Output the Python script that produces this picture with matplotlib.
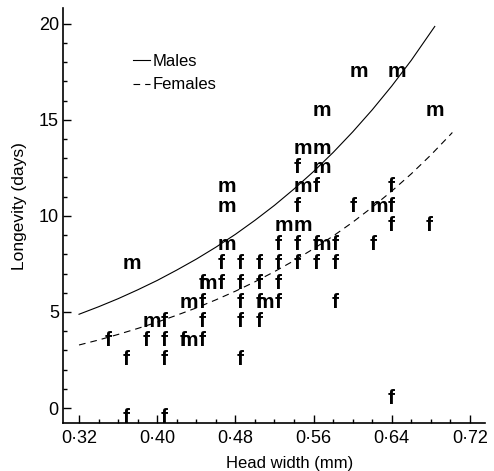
import matplotlib
matplotlib.use('Agg')
import matplotlib.pyplot as plt
from matplotlib.ticker import MultipleLocator, FuncFormatter

plt.rcParams['font.family'] = ['Liberation Sans', 'DejaVu Sans']

# fitted longevity curves, sampled along head width
curve_x_m = [0.32, 0.34, 0.36, 0.38, 0.40, 0.42, 0.44, 0.46, 0.48, 0.50,
             0.52, 0.54, 0.56, 0.58, 0.60, 0.62, 0.64, 0.66, 0.684]
curve_y_m = [4.88, 5.27, 5.69, 6.15, 6.64, 7.18, 7.75, 8.37, 9.04, 9.77,
             10.55, 11.40, 12.31, 13.30, 14.37, 15.52, 16.76, 18.10, 19.86]
curve_x_f = [0.32, 0.34, 0.36, 0.38, 0.40, 0.42, 0.44, 0.46, 0.48, 0.50,
             0.52, 0.54, 0.56, 0.58, 0.60, 0.62, 0.64, 0.66, 0.68, 0.70, 0.702]
curve_y_f = [3.28, 3.54, 3.83, 4.14, 4.47, 4.83, 5.21, 5.63, 6.08, 6.57,
             7.10, 7.67, 8.29, 8.95, 9.67, 10.45, 11.29, 12.19, 13.17, 14.23, 14.34]

# individual insects: head width (mm) and longevity (days)
head_m = [0.597, 0.636, 0.559, 0.675, 0.540, 0.559, 0.559, 0.462, 0.540, 0.462,
          0.617, 0.520, 0.540, 0.462, 0.559, 0.365, 0.442, 0.423, 0.501, 0.385,
          0.423]
days_m = [18, 18, 16, 16, 14, 14, 13, 12, 12, 11,
          11, 10, 10, 9, 9, 8, 7, 6, 6, 5,
          4]

head_f = [0.540,
          0.559, 0.636,
          0.540, 0.597, 0.636,
          0.636, 0.675,
          0.520, 0.540, 0.559, 0.578, 0.617,
          0.462, 0.481, 0.501, 0.520, 0.540, 0.559, 0.578,
          0.442, 0.462, 0.481, 0.501, 0.520,
          0.442, 0.481, 0.501, 0.520, 0.578,
          0.403, 0.442, 0.481, 0.501,
          0.346, 0.385, 0.403, 0.423, 0.442,
          0.365, 0.403, 0.481,
          0.636,
          0.365, 0.403]
days_f = [13,
          12, 12,
          11, 11, 11,
          10, 10,
          9, 9, 9, 9, 9,
          8, 8, 8, 8, 8, 8, 8,
          7, 7, 7, 7, 7,
          6, 6, 6, 6, 6,
          5, 5, 5, 5,
          4, 4, 4, 4, 4,
          3, 3, 3,
          1,
          0, 0]

fig = plt.figure(figsize=(4.94, 4.71), dpi=100)
ax = fig.add_axes([63 / 494, 48 / 471, 422 / 494, 415 / 471])

ax.plot(curve_x_m, curve_y_m, color='black', lw=0.8, label='Males')
ax.plot(curve_x_f, curve_y_f, color='black', lw=0.8, dashes=(6, 4.5), label='Females')

for x, y in zip(head_f, days_f):
    ax.text(x, y, 'f', ha='left', va='top', fontsize=15, fontweight='bold')
for x, y in zip(head_m, days_m):
    ax.text(x, y, 'm', ha='left', va='top', fontsize=15, fontweight='bold')

ax.set_xlim(0.3036, 0.7354)
ax.set_ylim(-0.78, 20.82)

for side in ['top', 'right']:
    ax.spines[side].set_visible(False)
for side in ['left', 'bottom']:
    ax.spines[side].set_linewidth(1.2)

ax.xaxis.set_major_locator(MultipleLocator(0.08))
ax.xaxis.set_minor_locator(MultipleLocator(0.02))
ax.xaxis.set_major_formatter(FuncFormatter(lambda v, p: f'{v:.2f}'.replace('.', '\u00b7')))
ax.yaxis.set_major_locator(MultipleLocator(5))
ax.yaxis.set_minor_locator(MultipleLocator(1))

ax.tick_params(which='both', direction='in', width=1.0, labelsize=13)
ax.tick_params(which='major', length=6)
ax.tick_params(which='minor', length=3)
ax.tick_params(axis='x', pad=5)
ax.tick_params(axis='y', pad=3)

ax.set_xlabel('Head width (mm)', fontsize=12)
ax.set_ylabel('Longevity (days)', fontsize=12.5)
ax.xaxis.set_label_coords(0.538, -0.079)
ax.yaxis.set_label_coords(-0.085, 0.523)

ax.legend(loc='upper left', bbox_to_anchor=(0.166, 0.889), frameon=False,
          fontsize=12, handlelength=1.0, handletextpad=0.2, labelspacing=0.5,
          borderpad=0, borderaxespad=0)

fig.savefig('out.png', dpi=100)
